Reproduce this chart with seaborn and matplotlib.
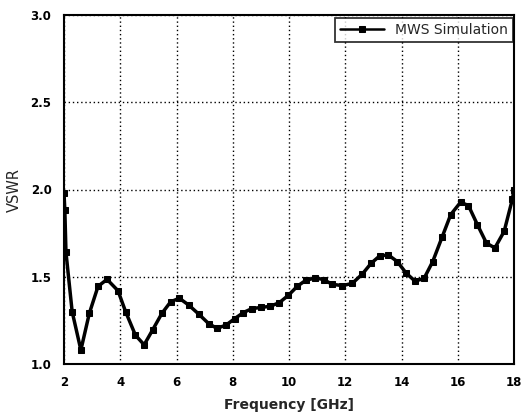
import matplotlib
matplotlib.use("Agg")
import matplotlib.pyplot as plt
import seaborn as sns
import pandas as pd
from matplotlib.ticker import MultipleLocator

freq = [2.0, 2.03, 2.07, 2.29, 2.60, 2.90, 3.21, 3.53, 3.92, 4.19, 4.54, 4.85,
        5.15, 5.48, 5.79, 6.10, 6.44, 6.79, 7.14, 7.44, 7.76, 8.07, 8.38, 8.69,
        9.01, 9.34, 9.66, 9.98, 10.30, 10.60, 10.94, 11.23, 11.53, 11.90, 12.25,
        12.61, 12.92, 13.22, 13.53, 13.85, 14.17, 14.48, 14.80, 15.11, 15.45,
        15.75, 16.10, 16.38, 16.70, 17.02, 17.32, 17.65, 17.94, 18.0]
vswr = [1.98, 1.88, 1.64, 1.30, 1.08, 1.29, 1.445, 1.485, 1.42, 1.30, 1.165, 1.11,
        1.195, 1.29, 1.356, 1.377, 1.337, 1.286, 1.232, 1.204, 1.223, 1.26, 1.295, 1.318,
        1.324, 1.331, 1.352, 1.394, 1.446, 1.48, 1.493, 1.484, 1.457, 1.449, 1.462,
        1.516, 1.577, 1.619, 1.625, 1.587, 1.52, 1.475, 1.49, 1.587, 1.73,
        1.856, 1.927, 1.908, 1.798, 1.693, 1.665, 1.76, 1.943, 2.0]
series_name = "MWS Simulation"
x_ticks = [2, 4, 6, 8, 10, 12, 14, 16, 18]
y_ticks = [1.0, 1.5, 2.0, 2.5, 3.0]

df = pd.DataFrame({"Frequency": freq, "VSWR": vswr})

sns.set_theme(style="white")
plt.rcParams['font.family'] = ['Liberation Sans', 'DejaVu Sans']

fig = plt.figure(figsize=(5.26, 4.2), dpi=100)
ax = fig.add_axes([64/526, 1-364/420, (514-64)/526, (364-15)/420])

sns.lineplot(data=df, x="Frequency", y="VSWR", ax=ax, color="black",
             linewidth=2.5, marker="s", markersize=4.5, markeredgecolor="black",
             label=series_name, sort=False)

ax.set_xlim(2, 18)
ax.set_ylim(1.0, 3.0)
ax.set_xticks(x_ticks)
ax.set_xticklabels([str(t) for t in x_ticks])
ax.set_yticks(y_ticks)
ax.set_yticklabels([f"{t:.1f}" for t in y_ticks])
ax.xaxis.set_minor_locator(MultipleLocator(1))
ax.yaxis.set_minor_locator(MultipleLocator(0.25))
ax.grid(True, which="major", linestyle=(0, (1, 2)), color="black", linewidth=1.0)
ax.set_axisbelow(True)

for s in ax.spines.values():
    s.set_visible(True)
    s.set_color("black")
    s.set_linewidth(1.5)

ax.tick_params(axis="both", which="major", direction="out", length=4, width=1.2,
               colors="black", labelsize=8.5, pad=5)
ax.tick_params(axis="both", which="minor", direction="out", length=3, width=1.0,
               colors="black")
for lab in ax.get_xticklabels() + ax.get_yticklabels():
    lab.set_fontweight("bold")
    lab.set_family(["DejaVu Sans"])

ax.set_xlabel("Frequency [GHz]", fontsize=10, fontweight="bold", labelpad=6,
              family=["DejaVu Sans"])
ax.set_ylabel("VSWR", fontsize=10.5, labelpad=6, family=["DejaVu Sans"])

leg = ax.legend(loc="upper right", frameon=True, fancybox=False,
                prop={"family": "DejaVu Sans", "size": 10},
                handlelength=3.2, borderpad=0.35, bbox_to_anchor=(0.998, 0.99),
                borderaxespad=0.0)
leg.get_frame().set_edgecolor("black")
leg.get_frame().set_linewidth(1.3)
for h in leg.legend_handles:
    h.set_linewidth(1.8)

fig.savefig("out.png", dpi=100, facecolor="white")
